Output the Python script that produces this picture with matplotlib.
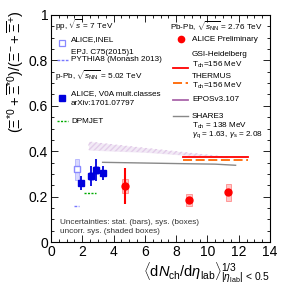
import numpy as np
import matplotlib
matplotlib.use('Agg')
from matplotlib import pyplot as plt
from matplotlib.patches import Rectangle
from matplotlib.ticker import MultipleLocator

plt.rcParams['font.family'] = ['Liberation Sans', 'DejaVu Sans']
plt.rcParams['mathtext.fontset'] = 'custom'
plt.rcParams['mathtext.rm'] = 'Liberation Sans'
plt.rcParams['mathtext.it'] = 'Liberation Sans:italic'

# pp 7 TeV (ALICE INEL)
pp_x = [1.66]
pp_y = [0.32]
pp_stat = [0.01]
pp_sys = [0.045]

# p-Pb 5.02 TeV (V0A mult. classes)
ppb_x = [1.92, 2.54, 2.88, 3.32]
ppb_y = [0.26, 0.29, 0.317, 0.303]
ppb_stat = [0.032, 0.045, 0.047, 0.032]
ppb_sys = [0.015, 0.018, 0.018, 0.014]

# Pb-Pb 2.76 TeV (ALICE preliminary)
pbpb_x = [4.73, 8.82, 11.34]
pbpb_y = [0.247, 0.185, 0.219]
pbpb_stat = [0.081, 0.012, 0.015]
pbpb_sys = [0.03, 0.026, 0.037]

# models
pythia_x = [1.5, 1.8]
pythia_y = [0.16, 0.16]
dpmjet_x = [2.1, 2.9]
dpmjet_y = [0.217, 0.217]
gsi_x = [8.46, 12.6]
gsi_y = [0.373, 0.373]
thermus_x = [8.46, 12.6]
thermus_y = [0.36, 0.36]
share_x = [3.3, 8.5, 10.5, 11.8]
share_y = [0.351, 0.345, 0.343, 0.338]
epos_x = [2.4, 4.0, 6.0, 8.0, 10.0, 11.3]
epos_hi = [0.443, 0.43, 0.415, 0.40, 0.385, 0.376]
epos_lo = [0.405, 0.40, 0.395, 0.385, 0.375, 0.37]

fig = plt.figure(figsize=(2.85, 2.87), dpi=100)
ax = fig.add_axes([51/285, 45/287, 219/285, 227/287])
ax.set_xlim(0, 14)
ax.set_ylim(0, 1)

# EPOS band
ax.fill_between(epos_x, epos_lo, epos_hi, facecolor='none', edgecolor='#d8b8e0',
                hatch='//////', linewidth=0)
ax.fill_between(epos_x, epos_lo, epos_hi, color='#eadcf0', alpha=0.6, linewidth=0)

ax.plot(share_x, share_y, color='#888888', lw=1.0)
ax.plot(gsi_x, gsi_y, color='red', lw=1.3)
ax.plot(thermus_x, thermus_y, color='#ff6600', lw=1.3, dashes=(5, 2))
ax.plot(pythia_x, pythia_y, color='#7777ff', lw=1.0, dashes=(2, 1))
ax.plot(dpmjet_x, dpmjet_y, color='#00aa00', lw=1.0, dashes=(1.5, 1))

def sys_boxes(xs, ys, es, w, fc, ec):
    for x, y, e in zip(xs, ys, es):
        ax.add_patch(Rectangle((x - w/2, y - e), w, 2*e, facecolor=fc,
                               edgecolor=ec, lw=0.6, alpha=0.7))

sys_boxes(pp_x, pp_y, pp_sys, 0.2, '#c8c8ff', '#9999ff')
sys_boxes(ppb_x, ppb_y, ppb_sys, 0.25, '#c0c0ff', '#8080ff')
sys_boxes(pbpb_x, pbpb_y, pbpb_sys, 0.35, '#ffb0b0', '#ff6666')

ax.errorbar(pp_x, pp_y, yerr=pp_stat, fmt='s', mfc='white', mec='#8888ff',
            ms=5, mew=1.0, ecolor='#8888ff', elinewidth=1)
ax.errorbar(ppb_x, ppb_y, yerr=ppb_stat, fmt='s', color='#0000dd',
            ms=5, elinewidth=1.3)
ax.errorbar(pbpb_x, pbpb_y, yerr=pbpb_stat, fmt='o', color='red',
            ms=5, elinewidth=1.5)

# axes style
ax.xaxis.set_major_locator(MultipleLocator(2))
ax.xaxis.set_minor_locator(MultipleLocator(0.5))
ax.yaxis.set_major_locator(MultipleLocator(0.2))
ax.yaxis.set_minor_locator(MultipleLocator(0.05))
ax.tick_params(which='both', direction='in', top=True, right=True, width=0.6)
ax.tick_params(which='major', length=5, labelsize=10, pad=2)
ax.tick_params(which='minor', length=2.5)
ax.set_yticks([0, 0.2, 0.4, 0.6, 0.8, 1.0])
ax.set_yticklabels(['0', '0.2', '0.4', '0.6', '0.8', '1'])
for s in ax.spines.values():
    s.set_linewidth(0.8)

ax.set_ylabel(r'$(\Xi^{*0}+\overline{\Xi}^{*0})/(\Xi^{-}+\overline{\Xi}^{+})$',
              fontsize=10.5, loc='top')
ax.yaxis.set_label_coords(-0.115, 1.02)
ax.set_xlabel(r'$\langle \mathrm{d}N_{\mathrm{ch}}/\mathrm{d}\eta_{\mathrm{lab}}\rangle^{1/3}_{|\eta_{\mathrm{lab}}|\,<\,0.5}$',
              fontsize=10.5, loc='right', labelpad=1)

T = ax.transAxes
fs = 5.9

def txt(x, y, s, **kw):
    ax.text(x, y, s, transform=T, fontsize=kw.pop('fontsize', fs), va='center', **kw)

# left legend
txt(0.018, 0.956, r'pp, $\sqrt{s}$ = 7 TeV')
ax.plot([0.05], [0.877], 's', mfc='white', mec='#8888ff', ms=4.5, mew=0.9, transform=T)
txt(0.091, 0.890, 'ALICE,INEL')
txt(0.091, 0.837, 'EPJ. C75(2015)1')
ax.plot([0.027, 0.078], [0.802, 0.802], color='#7777ff', lw=1.0, dashes=(2, 1), transform=T)
txt(0.091, 0.802, 'PYTHIA8 (Monash 2013)')
txt(0.018, 0.731, r'p-Pb, $\sqrt{s_{\mathrm{NN}}}$ = 5.02 TeV')
ax.plot([0.05], [0.634], 's', color='#0000dd', ms=4.5, transform=T)
txt(0.091, 0.656, 'ALICE, V0A mult.classes')
txt(0.091, 0.608, 'arXiv:1701.07797')
ax.plot([0.027, 0.078], [0.533, 0.533], color='#00aa00', lw=1.0, dashes=(1.5, 1), transform=T)
txt(0.091, 0.533, 'DPMJET')

# right legend
txt(0.543, 0.952, r'Pb-Pb, $\sqrt{s_{\mathrm{NN}}}$ = 2.76 TeV')
ax.plot([0.594], [0.894], 'o', color='red', ms=4.5, transform=T)
txt(0.644, 0.894, 'ALICE Preliminary')
ax.plot([0.557, 0.626], [0.767, 0.767], color='red', lw=1.3, transform=T)
txt(0.644, 0.824, 'GSI-Heidelberg')
txt(0.644, 0.780, r'T$_{\mathrm{ch}}$=156 MeV')
ax.plot([0.557, 0.626], [0.70, 0.70], color='#ff6600', lw=1.3, dashes=(5, 2), transform=T)
txt(0.644, 0.727, 'THERMUS')
txt(0.644, 0.687, r'T$_{\mathrm{ch}}$=156 MeV')
ax.plot([0.557, 0.626], [0.626, 0.626], color='#aa66aa', lw=1.3, transform=T)
txt(0.644, 0.626, 'EPOSv3.107')
ax.plot([0.557, 0.626], [0.555, 0.555], color='#888888', lw=1.0, transform=T)
txt(0.644, 0.555, 'SHARE3')
txt(0.644, 0.511, r'T$_{\mathrm{ch}}$ = 138 MeV')
txt(0.644, 0.471, r'$\gamma_{\mathrm{q}}$ = 1.63, $\gamma_{\mathrm{s}}$ = 2.08')

txt(0.041, 0.088, 'Uncertainties: stat. (bars), sys. (boxes)', color='#333333')
txt(0.041, 0.048, 'uncorr. sys. (shaded boxes)', color='#333333')

fig.savefig('out.png', dpi=100)
